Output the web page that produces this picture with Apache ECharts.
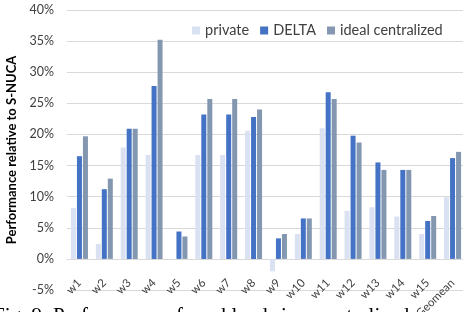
<!DOCTYPE html>
<html>
<head>
<meta charset="utf-8">
<script src="https://cdn.jsdelivr.net/npm/echarts@6/dist/echarts.min.js"></script>
<style>
  html, body { margin: 0; padding: 0; background: #fff; }
  #res { width: 463px; height: 312px; }
</style>
</head>
<body>
<div id="res"></div>
<script>
// workloads
var categories = ['w1', 'w2', 'w3', 'w4', 'w5', 'w6', 'w7', 'w8', 'w9', 'w10', 'w11', 'w12', 'w13', 'w14', 'w15', 'Geomean'];
// performance relative to S-NUCA, %
var privateVals = [8.2, 2.4, 17.9, 16.7, 0, 16.7, 16.7, 20.6, -2.0, 4.0, 21.0, 7.7, 8.3, 6.8, 4.0, 9.9];
var deltaVals   = [16.5, 11.2, 20.9, 27.8, 4.4, 23.2, 23.2, 22.8, 3.3, 6.5, 26.8, 19.8, 15.5, 14.3, 6.1, 16.2];
var idealVals   = [19.7, 12.9, 20.9, 35.2, 3.6, 25.7, 25.7, 24.0, 4.0, 6.5, 25.7, 18.7, 14.3, 14.3, 6.9, 17.2];
var seriesNames = ['private', 'DELTA', 'ideal centralized'];
var caption = 'Fig. 9: Performance of workloads in a centralized';

var font = 'Lato, "Open Sans", sans-serif';
var myChart = echarts.init(document.getElementById('res'));
var option = {
    animation: false,
    textStyle: { fontFamily: font },
    color: ['#d9e1f2', '#4472c4', '#8497b0'],
    legend: {
        data: seriesNames,
        left: 187,
        top: 18,
        itemWidth: 8,
        itemHeight: 8,
        itemGap: 11,
        icon: 'rect',
        textStyle: { fontSize: 14.5, color: '#404040', fontFamily: font }
    },
    grid: {
        left: 67,
        top: 10,
        width: 398,
        bottom: 22,
        outerBoundsMode: 'none',
        containLabel: false
    },
    xAxis: {
        type: 'category',
        data: categories,
        axisLine: { onZero: true, lineStyle: { color: '#d9d9d9' } },
        axisTick: { show: false },
        axisLabel: {
            interval: 0,
            rotate: 45,
            margin: -9,
            fontSize: 11.5,
            color: '#404040',
            fontFamily: font
        }
    },
    yAxis: {
        type: 'value',
        min: -5,
        max: 40,
        interval: 5,
        name: 'Performance relative to S-NUCA',
        nameLocation: 'middle',
        nameGap: 32,
        nameTextStyle: { fontSize: 13, fontWeight: 'bold', color: '#000', fontFamily: font },
        axisLine: { show: false },
        axisTick: { show: false },
        axisLabel: {
            formatter: '{value}%',
            fontSize: 12.5,
            margin: 13,
            color: '#404040',
            fontFamily: font
        },
        splitLine: { lineStyle: { color: '#d9d9d9' } }
    },
    graphic: [{
        type: 'text',
        x: -7,
        y: 306,
        silent: true,
        style: {
            text: caption,
            font: '21px "Liberation Serif", "DejaVu Serif", serif',
            verticalAlign: 'top',
            fill: '#000'
        }
    }],
    series: [
        { name: seriesNames[0], type: 'bar', data: privateVals, barWidth: 5, barGap: '20%' },
        { name: seriesNames[1], type: 'bar', data: deltaVals, barWidth: 5, barGap: '20%' },
        { name: seriesNames[2], type: 'bar', data: idealVals, barWidth: 5, barGap: '20%' }
    ]
};
myChart.setOption(option);
</script>
</body>
</html>
